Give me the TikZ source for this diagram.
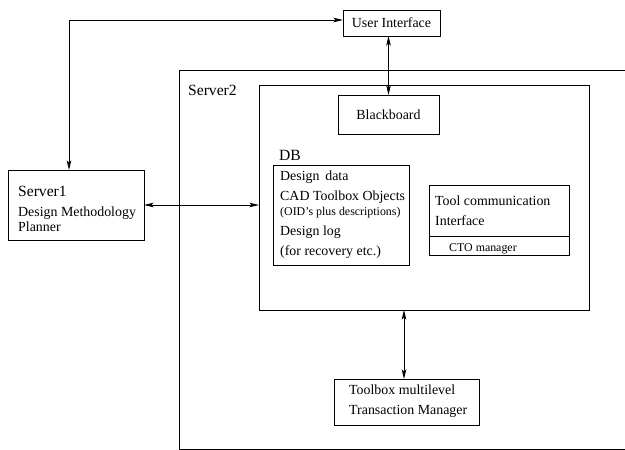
\documentclass[tikz,border=0pt]{standalone}
\usepackage{fontspec}
\setmainfont{Liberation Serif}
\usetikzlibrary{arrows.meta,calc}

\newcommand{\mainsz}{\fontsize{13.9}{16}\selectfont}
\newcommand{\bigsz}{\fontsize{15.6}{18}\selectfont}
\newcommand{\smallsz}{\fontsize{11.9}{14}\selectfont}

\tikzset{
  box/.style={draw, line width=0.8pt, inner sep=0pt, outer sep=0pt, anchor=north west},
  txt/.style={inner sep=0pt, anchor=base west, font=\mainsz},
  bigtxt/.style={inner sep=0pt, anchor=base west, font=\bigsz},
  smalltxt/.style={inner sep=0pt, anchor=base west, font=\smallsz},
  link/.style={line width=0.8pt, {Stealth[length=9.5pt,width=4.5pt,inset=2pt]}-{Stealth[length=9.5pt,width=4.5pt,inset=2pt]}}
}

\begin{document}
\begin{tikzpicture}[x=1pt,y=-1pt]
\useasboundingbox (0,0) rectangle (625,450);

% Server2 frame, running off the right edge
\draw[line width=0.8pt] (625,70) -- (179,70) -- (179,449) -- (625,449);
\node[bigtxt] (s2label) at (188,95) {Server2};

% boxes
\node[box, minimum width=97pt, minimum height=26pt] (ui) at (343,10) {};
\node[font=\mainsz, inner sep=0pt] (uitxt) at (ui.center) {User Interface};

\node[box, minimum width=330pt, minimum height=225pt] (inner) at (259,85) {};

\node[box, minimum width=101pt, minimum height=39pt] (bb) at (338,95) {};
\node[font=\mainsz, inner sep=0pt] (bbtxt) at (bb.center) {Blackboard};

\node[box, minimum width=136pt, minimum height=70pt] (s1) at (8,170) {};
\node[bigtxt] (s1a) at (18,196) {Server1};
\node[txt] (s1b) at (18,216) {Design Methodology};
\node[txt] (s1c) at (18,231) {Planner};

\node[bigtxt] (dblabel) at (279,160) {DB};
\node[box, minimum width=136pt, minimum height=100pt] (db) at (273,165) {};
\node[txt] (db1) at (280,180.5) {Design\, data};
\node[txt] (db2) at (280,200.5) {CAD Toolbox Objects};
\node[smalltxt] (db3) at (280,215.5) {(OID’s plus descriptions)};
\node[txt] (db4) at (280,235.5) {Design log};
\node[txt] (db5) at (280,255.5) {(for recovery etc.)};

\node[box, minimum width=140pt, minimum height=70pt] (tool) at (429,185) {};
\coordinate (divl) at (429,236);
\draw[line width=0.8pt] (divl) -- (divl -| tool.east);
\node[txt] (tool1) at (435,205.5) {Tool communication};
\node[txt] (tool2) at (435,225.5) {Interface};
\node[smalltxt] (cto) at (449,251) {CTO manager};

\node[box, minimum width=145pt, minimum height=46pt] (tm) at (334,379) {};
\node[txt] (tm1) at (349,394.5) {Toolbox multilevel};
\node[txt] (tm2) at (349,414.5) {Transaction Manager};

% connectors
\coordinate (corner) at (69,20);
\draw[link] (ui.west |- corner) -- (corner) -- (corner |- s1.north);
\draw[link] (ui.south -| bb.north) -- (bb.north);
\draw[link] (s1.east) -- (s1.east -| inner.west);
\coordinate (tmtop) at (404,379);
\draw[link] (tmtop |- inner.south) -- (tmtop);
\end{tikzpicture}
\end{document}
